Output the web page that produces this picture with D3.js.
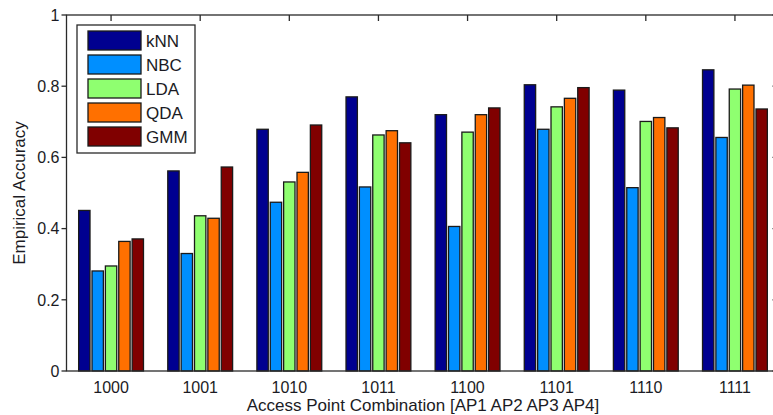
<!DOCTYPE html>
<html>
<head>
<meta charset="utf-8">
<script src="https://cdn.jsdelivr.net/npm/d3@7"></script>
<style>
  html, body { margin: 0; padding: 0; background: #fff; }
  svg { display: block; }
  text { font-family: "Liberation Sans", Arial, Helvetica, sans-serif; fill: #1b1b24; }
</style>
</head>
<body>
<svg id="chart" width="773" height="415"></svg>
<script>
// AP combinations on the x axis
const combos = ["1000", "1001", "1010", "1011", "1100", "1101", "1110", "1111"];
// classifiers, one bar each per combination
const methods = ["kNN", "NBC", "LDA", "QDA", "GMM"];
const methodColors = ["#000090", "#008fff", "#8fff70", "#ff7000", "#800000"];

// empirical accuracy per classifier, in combination order
const kNN = [0.451, 0.562, 0.679, 0.770, 0.720, 0.804, 0.789, 0.846];
const NBC = [0.281, 0.330, 0.474, 0.517, 0.406, 0.679, 0.515, 0.656];
const LDA = [0.295, 0.436, 0.531, 0.663, 0.671, 0.742, 0.701, 0.792];
const QDA = [0.364, 0.429, 0.558, 0.675, 0.720, 0.766, 0.712, 0.803];
const GMM = [0.371, 0.573, 0.691, 0.641, 0.739, 0.796, 0.683, 0.736];

const yTicks = [0, 0.2, 0.4, 0.6, 0.8, 1];
const yTickLabels = ["0", "0.2", "0.4", "0.6", "0.8", "1"];

const seriesValues = { kNN, NBC, LDA, QDA, GMM };

const svg = d3.select("#chart");
const plotLeft = 66.5, plotRight = 779.5, plotTop = 15, plotBottom = 371;

const x0 = d3.scaleBand().domain(combos).range([plotLeft, plotRight]).paddingInner(0.25).paddingOuter(0.125);
const x1 = d3.scaleBand().domain(methods).range([0, x0.bandwidth()]).paddingInner(0.15).paddingOuter(0.075);
const y = d3.scaleLinear().domain([0, 1]).range([plotBottom, plotTop]);
const color = d3.scaleOrdinal().domain(methods).range(methodColors);

// bars
const groups = svg.append("g").selectAll("g")
  .data(combos)
  .join("g")
  .attr("transform", d => `translate(${x0(d)},0)`);

groups.selectAll("rect")
  .data((c, i) => methods.map(m => ({ m, v: seriesValues[m][i] })))
  .join("rect")
  .attr("x", d => x1(d.m))
  .attr("y", d => y(d.v))
  .attr("width", x1.bandwidth())
  .attr("height", d => y(0) - y(d.v))
  .attr("fill", d => color(d.m))
  .attr("stroke", "#1a1a1a")
  .attr("stroke-width", 1.3);

// axes box
const axisColor = "#2a2a2a";
const box = svg.append("g").attr("stroke", axisColor).attr("stroke-width", 1.3).attr("fill", "none");
box.append("rect").attr("x", plotLeft).attr("y", plotTop).attr("width", plotRight - plotLeft).attr("height", plotBottom - plotTop);

// y ticks (left outside, right inside)
box.selectAll("line.yl").data(yTicks).join("line")
  .attr("class", "yl")
  .attr("x1", plotLeft - 5).attr("x2", plotLeft)
  .attr("y1", d => y(d)).attr("y2", d => y(d));
box.selectAll("line.yr").data(yTicks).join("line")
  .attr("class", "yr")
  .attr("x1", plotRight - 7).attr("x2", plotRight)
  .attr("y1", d => y(d)).attr("y2", d => y(d));
// x ticks on the top edge, pointing in
box.selectAll("line.xt").data(combos).join("line")
  .attr("class", "xt")
  .attr("x1", d => x0(d) + x0.bandwidth() / 2).attr("x2", d => x0(d) + x0.bandwidth() / 2)
  .attr("y1", plotTop).attr("y2", plotTop + 6);

// y tick labels
svg.append("g").selectAll("text").data(yTicks).join("text")
  .attr("x", plotLeft - 7)
  .attr("y", d => y(d))
  .attr("dy", "0.36em")
  .attr("text-anchor", "end")
  .attr("font-size", 16)
  .text((d, i) => yTickLabels[i]);

// x tick labels
svg.append("g").selectAll("text").data(combos).join("text")
  .attr("x", d => x0(d) + x0.bandwidth() / 2)
  .attr("y", 393)
  .attr("text-anchor", "middle")
  .attr("font-size", 16)
  .text(d => d);

// axis titles
svg.append("text")
  .attr("x", (plotLeft + plotRight) / 2)
  .attr("y", 411)
  .attr("text-anchor", "middle")
  .attr("font-size", 17)
  .text("Access Point Combination [AP1 AP2 AP3 AP4]");

svg.append("text")
  .attr("transform", `translate(25,${(plotTop + plotBottom) / 2}) rotate(-90)`)
  .attr("text-anchor", "middle")
  .attr("font-size", 17)
  .text("Empirical Accuracy");

// legend
const legend = svg.append("g");
legend.append("rect")
  .attr("x", 77).attr("y", 25).attr("width", 118).attr("height", 128)
  .attr("fill", "#fff").attr("stroke", axisColor).attr("stroke-width", 1.3);
const rows = legend.selectAll("g").data(methods).join("g")
  .attr("transform", (d, i) => `translate(0,${31 + i * 24})`);
rows.append("rect")
  .attr("x", 88).attr("y", 0).attr("width", 53).attr("height", 19)
  .attr("fill", d => color(d)).attr("stroke", "#1a1a1a").attr("stroke-width", 1.3);
rows.append("text")
  .attr("x", 146).attr("y", 9.5).attr("dy", "0.36em")
  .attr("font-size", 17)
  .text(d => d);
</script>
</body>
</html>
